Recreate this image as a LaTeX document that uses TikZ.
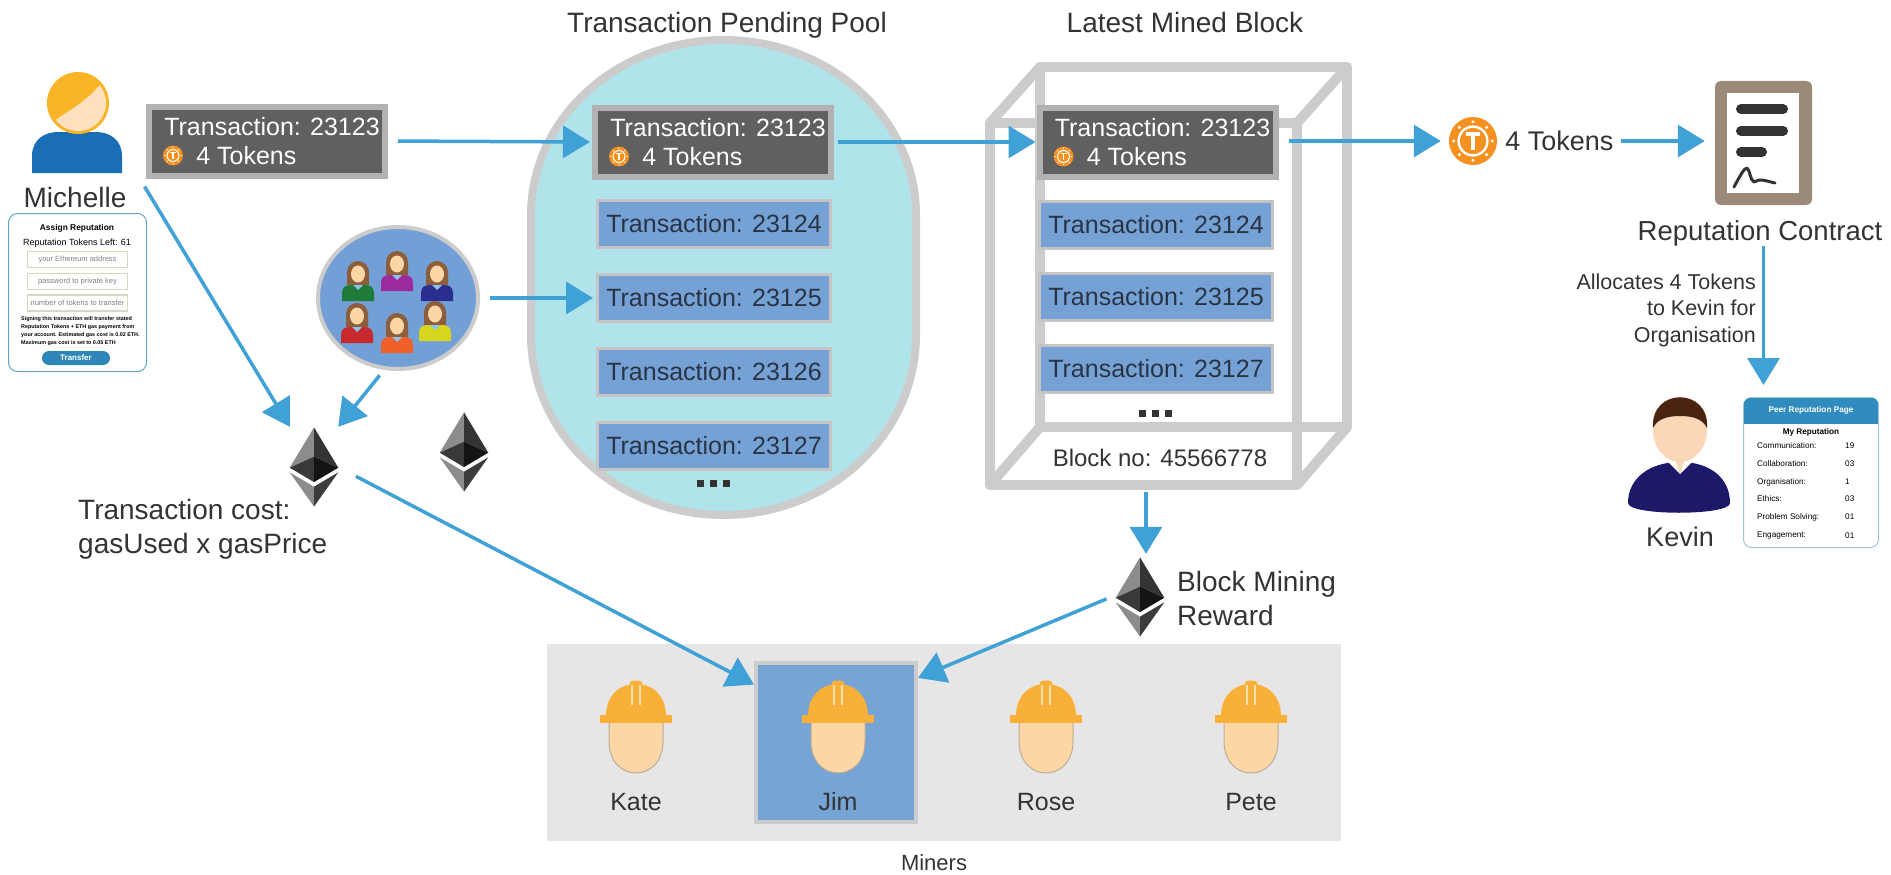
\documentclass[tikz,border=0pt]{standalone}
\usepackage{fontspec}
\setmainfont{Liberation Sans}
\usetikzlibrary{arrows.meta, positioning, calc, shapes.geometric}

\definecolor{flowblue}{RGB}{64,161,214}
\definecolor{poolcyan}{RGB}{177,228,234}
\definecolor{framegray}{RGB}{204,204,204}
\definecolor{txblue}{RGB}{117,161,212}
\definecolor{txedge}{RGB}{196,196,196}
\definecolor{txdark}{RGB}{96,96,96}
\definecolor{txrim}{RGB}{178,178,178}
\definecolor{inktext}{RGB}{51,51,51}
\definecolor{txink}{RGB}{40,52,70}
\definecolor{coinorange}{RGB}{244,145,32}
\definecolor{hatorange}{RGB}{249,176,56}
\definecolor{skin}{RGB}{253,214,165}
\definecolor{skinline}{RGB}{190,172,150}
\definecolor{panelgray}{RGB}{230,230,230}
\definecolor{jimblue}{RGB}{118,164,212}
\definecolor{paperbrown}{RGB}{156,138,121}
\definecolor{formblue}{RGB}{96,166,204}
\definecolor{btnblue}{RGB}{46,134,184}
\definecolor{cardhead}{RGB}{48,140,190}
\definecolor{cardline}{RGB}{160,198,218}
\definecolor{fieldline}{RGB}{214,216,196}
\definecolor{navy}{RGB}{28,26,104}
\definecolor{hairbrown}{RGB}{74,36,16}
\definecolor{kevskin}{RGB}{250,215,182}
\definecolor{michblue}{RGB}{26,110,182}
\definecolor{michhair}{RGB}{249,180,40}
\definecolor{michskin}{RGB}{253,224,190}
\definecolor{ladyhair}{RGB}{140,94,60}
\definecolor{collarblue}{RGB}{143,195,232}
\definecolor{groupblue}{RGB}{114,159,214}
\definecolor{shirtgreen}{RGB}{30,123,58}
\definecolor{shirtpurple}{RGB}{154,42,158}
\definecolor{shirtnavy}{RGB}{42,47,143}
\definecolor{shirtred}{RGB}{198,42,46}
\definecolor{shirtorange}{RGB}{240,96,42}
\definecolor{shirtyellow}{RGB}{214,214,30}
\definecolor{ethA}{HTML}{8C8C8C}
\definecolor{ethB}{HTML}{343434}
\definecolor{ethC}{HTML}{3C3C3B}
\definecolor{ethD}{HTML}{141414}
\definecolor{ethE}{HTML}{393939}

\newcommand\bigtext{\fontsize{28}{34}\selectfont}
\newcommand\txtext{\fontsize{25}{29}\selectfont}
\newcommand\midtext{\fontsize{21.5}{26.5}\selectfont}
\newcommand\cardtext{\fontsize{8.2}{10}\selectfont}

\tikzset{
  pics/eth/.style={code={
    \fill[ethA] (0,-39.6) -- (-24.3,0.7) -- (0,-10.4) -- cycle;
    \fill[ethB] (0,-39.6) -- (24.3,0.7) -- (0,-10.4) -- cycle;
    \fill[ethE] (0,-10.4) -- (-24.3,0.7) -- (0,15.1) -- cycle;
    \fill[ethD] (0,-10.4) -- (24.3,0.7) -- (0,15.1) -- cycle;
    \fill[ethA] (-24.3,5.3) -- (0,19.7) -- (0,39.6) -- cycle;
    \fill[ethC] (24.3,5.3) -- (0,19.7) -- (0,39.6) -- cycle;
  }},
  pics/coin/.style={code={
    \fill[coinorange] (0,0) circle[radius=#1];
    \foreach \a in {0,45,...,315}
      \fill[white] (\a:{0.8*#1}) circle[radius=0.07*#1];
    \draw[white, line width=0.1*#1] (0,0) circle[radius=0.6*#1];
    \draw[white, line width=0.15*#1] (-0.3*#1,-0.3*#1) -- (0.3*#1,-0.3*#1)
      (0,-0.3*#1) -- (0,0.36*#1);
  }},
  pics/lady/.style={code={
    \fill[ladyhair] (-11,12) -- (-11,-1) arc[start angle=180, end angle=360, radius=11] -- (11,12) -- cycle;
    \fill[skin] (0,1) ellipse[x radius=7, y radius=8.5];
    \fill[#1] (-16,28) -- (-16,20) .. controls (-16,14) and (-12,12) .. (-7,12) -- (7,12)
      .. controls (12,12) and (16,14) .. (16,20) -- (16,28) -- cycle;
    \fill[collarblue] (-5,12) -- (5,12) -- (0,17) -- cycle;
  }},
  pics/miner/.style={code={
    \filldraw[fill=skin, draw=skinline, line width=1pt] (-27,0) -- (-27,22)
      .. controls (-27,44) and (-13,54) .. (0,54) .. controls (13,54) and (27,44) .. (27,22) -- (27,0) -- cycle;
    \fill[hatorange] (-30,-3) .. controls (-30,-46) and (30,-46) .. (30,-3) -- cycle;
    \fill[hatorange] (-6,-20) -- (-6,-37) .. controls (-6,-39) and (6,-39) .. (6,-37) -- (6,-20) -- cycle;
    \fill[hatorange] (-36,-4) rectangle (36,4);
    \draw[white!60!hatorange, line width=1.2pt] (-4,-34) -- (-4,-14) (4,-34) -- (4,-14);
  }}
}

\begin{document}
\begin{tikzpicture}[x=1pt, y=-1pt,
    every node/.style={inner sep=0pt, text=inktext},
    flow/.style={line width=3.5pt, draw=flowblue, -{Triangle[length=27pt,width=32pt]}},
    txdark/.style={draw=txrim, line width=6pt, fill=txdark, text=white, font=\txtext,
      align=left, minimum width=236pt, minimum height=69pt},
    txbox/.style={draw=txedge, line width=3pt, fill=txblue, text=txink, font=\txtext,
      minimum width=233pt, minimum height=47pt},
    headline/.style={font=\bigtext},
    cube/.style={draw=framegray, line width=10pt, line join=round, line cap=round},
    field/.style={draw=fieldline, line width=1.2pt, minimum width=100pt, minimum height=16pt,
      text=gray, font=\fontsize{7.5}{9}\selectfont},
    reprow/.style={font=\cardtext, anchor=west, text=black},
    minerlabel/.style={font=\fontsize{25}{30}\selectfont}]

  \useasboundingbox (0,0) rectangle (1891,875);

  % Michelle and her form
  \fill[michblue] (32,173) -- (32,156) .. controls (32,140) and (44,132) .. (58,132) -- (96,132)
    .. controls (110,132) and (122,140) .. (122,156) -- (122,173) -- cycle;
  \fill[michhair] (78,103) circle[radius=31];
  \begin{scope}
    \clip (78,103) circle[radius=28];
    \fill[michskin] (46,128) .. controls (60,114) and (84,106) .. (102,82) -- (120,80) -- (120,140) -- (40,140) -- cycle;
  \end{scope}
  \node[headline] (michname) at (75,197) {Michelle};

  \node[draw=formblue, line width=1pt, rounded corners=9pt, fill=white,
    minimum width=138pt, minimum height=158pt] (form) at (77.5,292.5) {};
  \node[font=\fontsize{8.4}{10}\selectfont\bfseries, text=black] (formhead) at (77,228) {Assign Reputation};
  \node[font=\fontsize{9}{11}\selectfont, text=black] (tokensleft) at (77,243) {Reputation Tokens Left: 61};
  \node[field] (addr) at (77.5,259.5) {your Ethereum address};
  \node[field] (pass) at (77.5,281.5) {password to private key};
  \node[field] (amount) at (77.5,303) {number of tokens to transfer};
  \node[font=\fontsize{5.4}{8}\selectfont\bfseries, text=black, align=left, anchor=north west] (terms) at (21,316)
    {Signing this transaction will transfer stated\\Reputation Tokens + ETH gas payment from\\your account. Estimated gas cost is 0.02 ETH.\\Maximum gas cost is set to 0.05 ETH};
  \node[fill=btnblue, rounded corners=7pt, minimum width=68pt, minimum height=14pt, text=white,
    font=\fontsize{8}{10}\selectfont\bfseries] (transfer) at (76,358) {Transfer};

  \node[txdark] (txA) at (267,141) {\hspace*{10pt}Transaction: 23123\\\hspace*{42pt}4 Tokens};
  \pic at ([shift={(27,14.5)}]txA.west) {coin=10};

  % peers
  \node[ellipse, draw=framegray, line width=4pt, fill=groupblue, minimum width=160pt, minimum height=142pt] (group) at (398,298) {};
  \pic at (358,273) {lady=shirtgreen};
  \pic at (397,263) {lady=shirtpurple};
  \pic at (437,273) {lady=shirtnavy};
  \pic at (357,315) {lady=shirtred};
  \pic at (397,325) {lady=shirtorange};
  \pic at (435,313) {lady=shirtyellow};

  \node[minimum width=48pt, minimum height=80pt] (eth1) at (314,467) {};
  \pic at (eth1) {eth};
  \node[minimum width=48pt, minimum height=80pt] (eth0) at (464,452) {};
  \pic at (eth0) {eth};
  \node[headline, align=left, anchor=west] (gascost) at (78,529) {Transaction cost:\\gasUsed x gasPrice};

  % pending pool
  \node[headline] (pooltitle) at (727,25) {Transaction Pending Pool};
  \draw[fill=poolcyan, draw=framegray, line width=8pt] (531,215)
    arc[start angle=180, end angle=360, x radius=192.5, y radius=175] -- (916,335)
    arc[start angle=0, end angle=180, x radius=192.5, y radius=180] -- cycle;
  \node[txdark] (poolA) at (713,142) {\hspace*{10pt}Transaction: 23123\\\hspace*{42pt}4 Tokens};
  \pic at ([shift={(27,14.5)}]poolA.west) {coin=10};
  \node[txbox] (poolB) at (714,224) {Transaction: 23124};
  \node[txbox] (poolC) at (714,298) {Transaction: 23125};
  \node[txbox] (poolD) at (714,372) {Transaction: 23126};
  \node[txbox] (poolE) at (714,446) {Transaction: 23127};
  \foreach \i in {0,1,2}
    \fill[inktext] (697+13*\i,480) rectangle ++(7,7);

  % mined block
  \node[headline] (blocktitle) at (1185,22) {Latest Mined Block};
  \draw[cube] (1040,67) rectangle (1347,427);
  \draw[cube] (990,123) rectangle (1297,485);
  \draw[cube] (990,123) -- (1040,67) (1297,123) -- (1347,67)
    (990,485) -- (1040,427) (1297,485) -- (1347,427);
  \node[txdark] (blockA) at (1157.5,142) {\hspace*{10pt}Transaction: 23123\\\hspace*{42pt}4 Tokens};
  \pic at ([shift={(27,14.5)}]blockA.west) {coin=10};
  \node[txbox] (blockB) at (1156,225) {Transaction: 23124};
  \node[txbox] (blockC) at (1156,297) {Transaction: 23125};
  \node[txbox] (blockD) at (1156,369) {Transaction: 23127};
  \foreach \i in {0,1,2}
    \fill[inktext] (1139+13*\i,410) rectangle ++(7,7);
  \node[font=\fontsize{24}{29}\selectfont] (blockno) at (1160,458) {Block no: 45566778};
  \coordinate (blockbase) at (1146,492);

  \node[minimum width=48pt, minimum height=80pt] (eth2) at (1140,597) {};
  \pic at (eth2) {eth};
  \node[headline, align=left, anchor=west] (reward) at (1177,598) {Block Mining\\Reward};

  % tokens and contract
  \node[circle, minimum size=48pt] (tokencoin) at (1473,141) {};
  \pic at (tokencoin) {coin=24};
  \node[font=\fontsize{27}{32}\selectfont, right=8pt of tokencoin] (tokens) {4 Tokens};

  \node[fill=paperbrown, rounded corners=6pt, minimum width=97pt, minimum height=124pt] (contract) at (1763.5,143) {};
  \fill[white] (1727,93) rectangle (1799,193);
  \draw[inktext, line width=10pt, line cap=round] (1741,109) -- (1783,109) (1741,131) -- (1783,131) (1741,152) -- (1762,152);
  \draw[inktext, line width=3pt, line cap=round, line join=round] (1734,187)
    .. controls (1740,176) and (1744,168) .. (1747,168) .. controls (1750,170) and (1750,180) .. (1754,182)
    .. controls (1760,178) and (1766,181) .. (1775,183);
  \node[font=\fontsize{27.5}{33}\selectfont] (contractname) at (1760,233) {Reputation Contract};
  \node[font=\midtext, align=right, anchor=east] (alloc) at (1756,310) {Allocates 4 Tokens\\to Kevin for\\Organisation};

  % Kevin and his page
  \fill[navy] (1628,503) .. controls (1628,478) and (1650,462) .. (1680,462) .. controls (1710,462) and (1730,478) .. (1730,503)
    .. controls (1730,516) and (1628,516) .. (1628,503) -- cycle;
  \fill[kevskin] (1671,452) -- (1689,452) -- (1680,474) -- cycle;
  \fill[white] (1667,461) -- (1680,474) -- (1674,457) -- cycle;
  \fill[white] (1693,461) -- (1680,474) -- (1686,457) -- cycle;
  \fill[kevskin] (1680,430) ellipse[x radius=27, y radius=32];
  \fill[hairbrown] (1653,428) .. controls (1650,387) and (1710,387) .. (1707,428)
    .. controls (1703,420) and (1695,416) .. (1680,416) .. controls (1665,416) and (1657,420) .. (1653,428) -- cycle;
  \node[font=\fontsize{27}{32}\selectfont] (kevin) at (1680,537) {Kevin};

  \node[draw=cardline, line width=1pt, fill=white, rounded corners=8pt,
    minimum width=135pt, minimum height=150pt] (page) at (1811,472.5) {};
  \begin{scope}
    \clip[rounded corners=8pt] (1743.5,397.5) rectangle (1878.5,547.5);
    \fill[cardhead] (1743.5,397.5) rectangle (1878.5,424);
  \end{scope}
  \node[font=\cardtext\bfseries, text=white] (pagehead) at (1811,410) {Peer Reputation Page};
  \node[font=\cardtext\bfseries, text=black] (myrep) at (1811,432) {My Reputation};
  \foreach \lab/\val/\y [count=\i] in {Communication:/19/446, Collaboration:/03/464, Organisation:/1/482,
      Ethics:/03/499, Problem Solving:/01/517, Engagement:/01/536} {
    \node[reprow] (replab\i) at (1757,\y) {\lab};
    \node[reprow] (repval\i) at (1845,\y) {\val};
  }

  % miners
  \node[fill=panelgray, minimum width=794pt, minimum height=197pt] (panel) at (944,742.5) {};
  \node[draw=framegray, line width=4pt, fill=jimblue, minimum width=160pt, minimum height=159pt] (jimbox) at (836,742) {};
  \foreach \who/\x in {Kate/636, Jim/838, Rose/1046, Pete/1251} {
    \pic at (\x,719) {miner};
    \node[minerlabel] (\who) at (\x,802) {\who};
  }
  \node[font=\fontsize{22}{26}\selectfont] (miners) at (934,863) {Miners};

  % connectors
  \draw[flow, shorten <=10pt, shorten >=2pt] (txA.east) -- (poolA.west);
  \draw[flow, shorten <=4pt, shorten >=1pt] (poolA.east) -- (blockA.west);
  \draw[flow, shorten <=10pt, shorten >=8pt] (blockA.east |- tokencoin) -- (tokencoin.west);
  \draw[flow, shorten <=7pt, shorten >=10pt] (tokens.east) -- (tokens.east -| contract.west);
  \draw[flow, shorten >=12pt] (contract.south |- contractname.south) -- (contract.south |- page.north);
  \draw[flow, shorten <=10pt, shorten >=3pt] (group.east) -- (poolC.west);
  \draw[flow] ([xshift=18pt]michname.north east) -- (eth1.north west);
  \draw[flow, shorten <=7pt] (group.259) -- (eth1.north east);
  \draw[flow, shorten <=20pt] (eth1.east) -- (jimbox.145);
  \draw[flow, shorten >=3pt] (blockbase) -- (blockbase |- eth2.north);
  \draw[flow, shorten <=10pt] ([yshift=2pt]eth2.west) -- (jimbox.38);
\end{tikzpicture}
\end{document}
